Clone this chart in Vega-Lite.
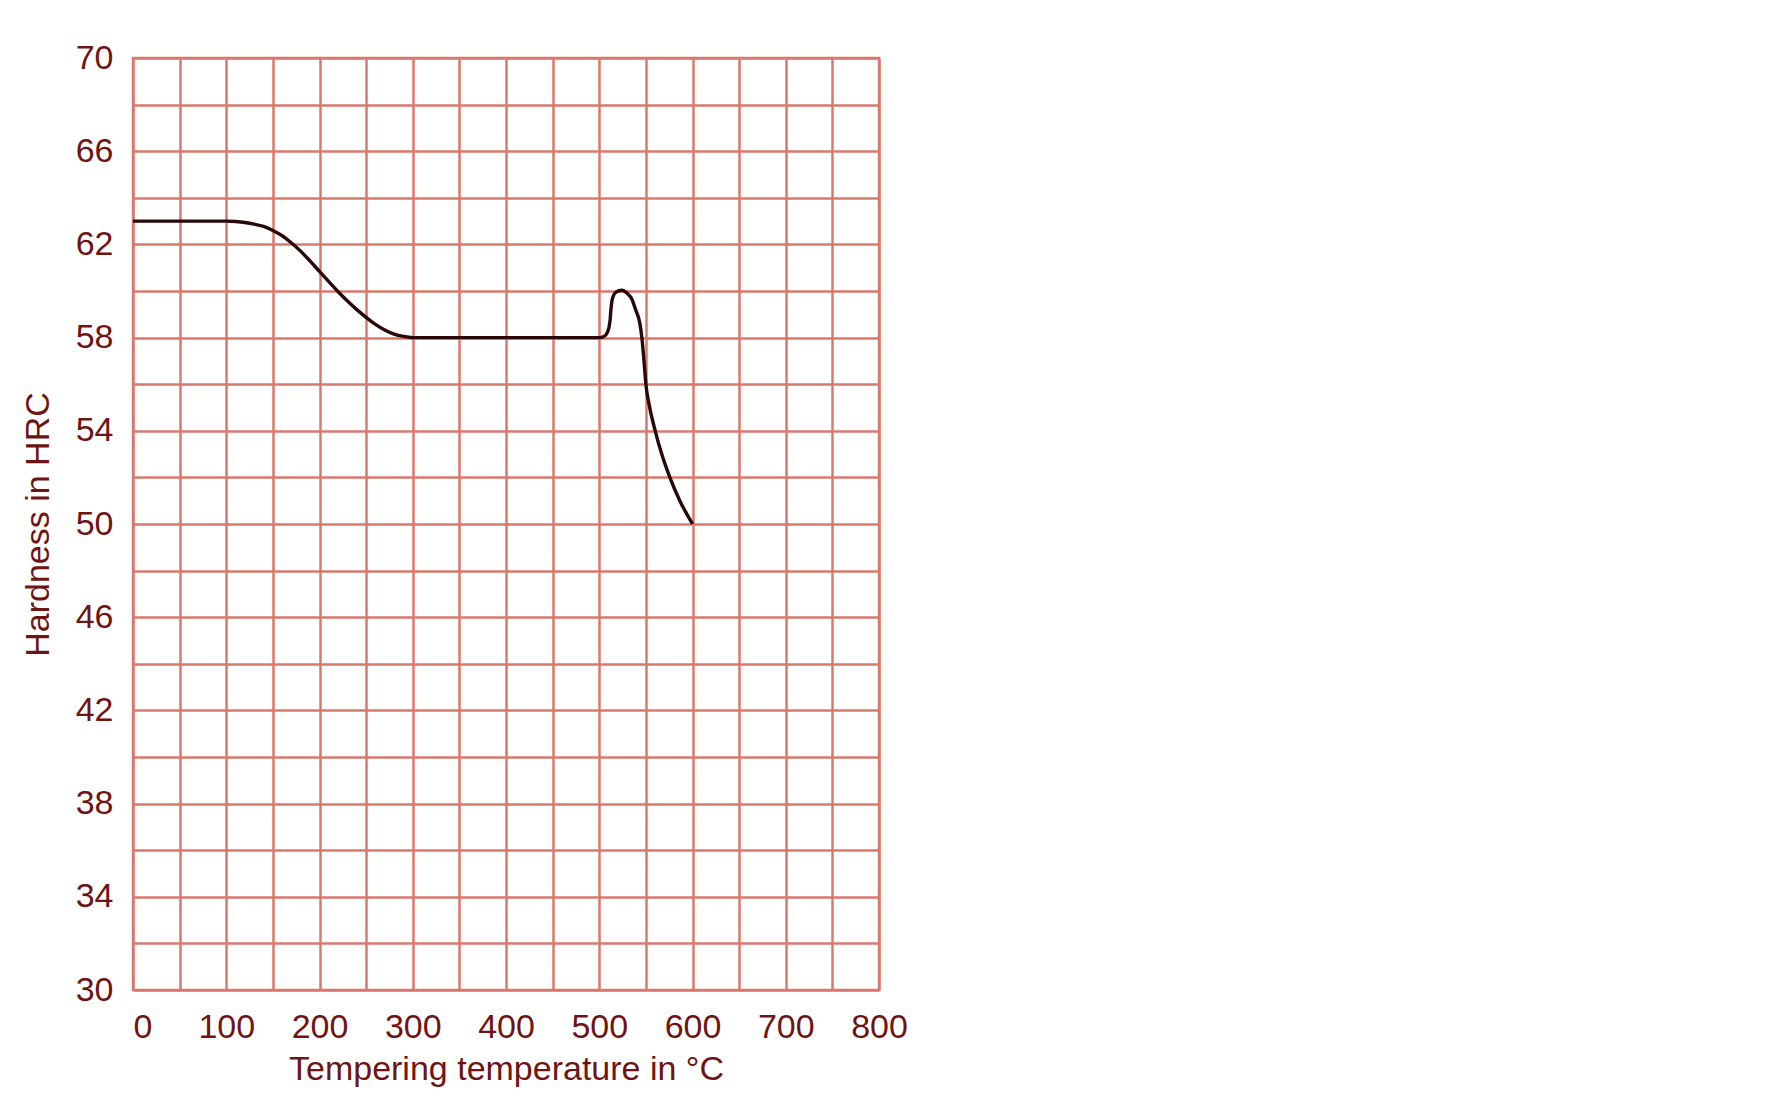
{
  "$schema": "https://vega.github.io/schema/vega-lite/v6.json",
  "width": 746,
  "height": 932,
  "autosize": {"type": "none"},
  "padding": {"left": 133, "top": 58, "right": 892, "bottom": 116},
  "background": "white",
  "config": {
    "view": {"stroke": "#d9786c", "strokeWidth": 2.5},
    "axis": {
      "gridColor": "#d9786c",
      "gridWidth": 2.5,
      "gridOpacity": 1,
      "ticks": false,
      "domain": false
    }
  },
  "data": {
    "values": [
      {"t": 0, "h": 63},
      {"t": 100, "h": 63},
      {"t": 110, "h": 62.98},
      {"t": 120, "h": 62.94},
      {"t": 130, "h": 62.87},
      {"t": 140, "h": 62.77},
      {"t": 150, "h": 62.6},
      {"t": 160, "h": 62.37},
      {"t": 170, "h": 62.06},
      {"t": 180, "h": 61.7},
      {"t": 190, "h": 61.28},
      {"t": 200, "h": 60.84},
      {"t": 210, "h": 60.4},
      {"t": 220, "h": 59.97},
      {"t": 230, "h": 59.57},
      {"t": 240, "h": 59.2},
      {"t": 250, "h": 58.87},
      {"t": 260, "h": 58.57},
      {"t": 270, "h": 58.33},
      {"t": 280, "h": 58.15},
      {"t": 290, "h": 58.05},
      {"t": 300, "h": 58},
      {"t": 500, "h": 58},
      {"t": 505, "h": 58.05},
      {"t": 509, "h": 58.25},
      {"t": 511.5, "h": 58.7},
      {"t": 512.5, "h": 59.2},
      {"t": 514, "h": 59.65},
      {"t": 518, "h": 59.95},
      {"t": 524, "h": 60.03},
      {"t": 530, "h": 59.9},
      {"t": 535, "h": 59.65},
      {"t": 539, "h": 59.2},
      {"t": 543.6, "h": 58.6},
      {"t": 545.7, "h": 58.0},
      {"t": 548, "h": 57.0},
      {"t": 550, "h": 56.0},
      {"t": 553.6, "h": 55.1},
      {"t": 560, "h": 54.0},
      {"t": 567, "h": 53.0},
      {"t": 575.7, "h": 52.0},
      {"t": 586.4, "h": 51.0},
      {"t": 600, "h": 50.0}
    ]
  },
  "mark": {"type": "line", "color": "#2a0808", "strokeWidth": 3.4, "interpolate": "monotone"},
  "encoding": {
    "x": {
      "field": "t",
      "type": "quantitative",
      "scale": {"domain": [0, 800], "nice": false},
      "axis": {
        "values": [0, 50, 100, 150, 200, 250, 300, 350, 400, 450, 500, 550, 600, 650, 700, 750, 800],
        "labelExpr": "datum.value % 100 == 0 ? datum.label : ''",
        "labelAlign": {"condition": {"test": "datum.value == 0", "value": "left"}, "value": "center"},
        "labelPadding": 20,
        "labelFont": "Liberation Sans",
        "labelFontSize": 34,
        "labelColor": "#6e1414",
        "title": "Tempering temperature in °C",
        "titleFont": "Liberation Sans",
        "titleFontSize": 34,
        "titleFontWeight": "normal",
        "titleColor": "#6e1414",
        "titlePadding": 8,
        "labelOverlap": false,
        "labelFlush": false
      }
    },
    "y": {
      "field": "h",
      "type": "quantitative",
      "scale": {"domain": [30, 70], "nice": false, "zero": false},
      "axis": {
        "values": [30, 32, 34, 36, 38, 40, 42, 44, 46, 48, 50, 52, 54, 56, 58, 60, 62, 64, 66, 68, 70],
        "labelExpr": "(datum.value - 30) % 4 == 0 ? datum.label : ''",
        "labelPadding": 20,
        "labelFont": "Liberation Sans",
        "labelFontSize": 34,
        "labelColor": "#6e1414",
        "title": "Hardness in HRC",
        "titleFont": "Liberation Sans",
        "titleFontSize": 34,
        "titleFontWeight": "normal",
        "titleColor": "#6e1414",
        "titlePadding": 20,
        "labelOverlap": false,
        "labelFlush": false
      }
    }
  }
}
